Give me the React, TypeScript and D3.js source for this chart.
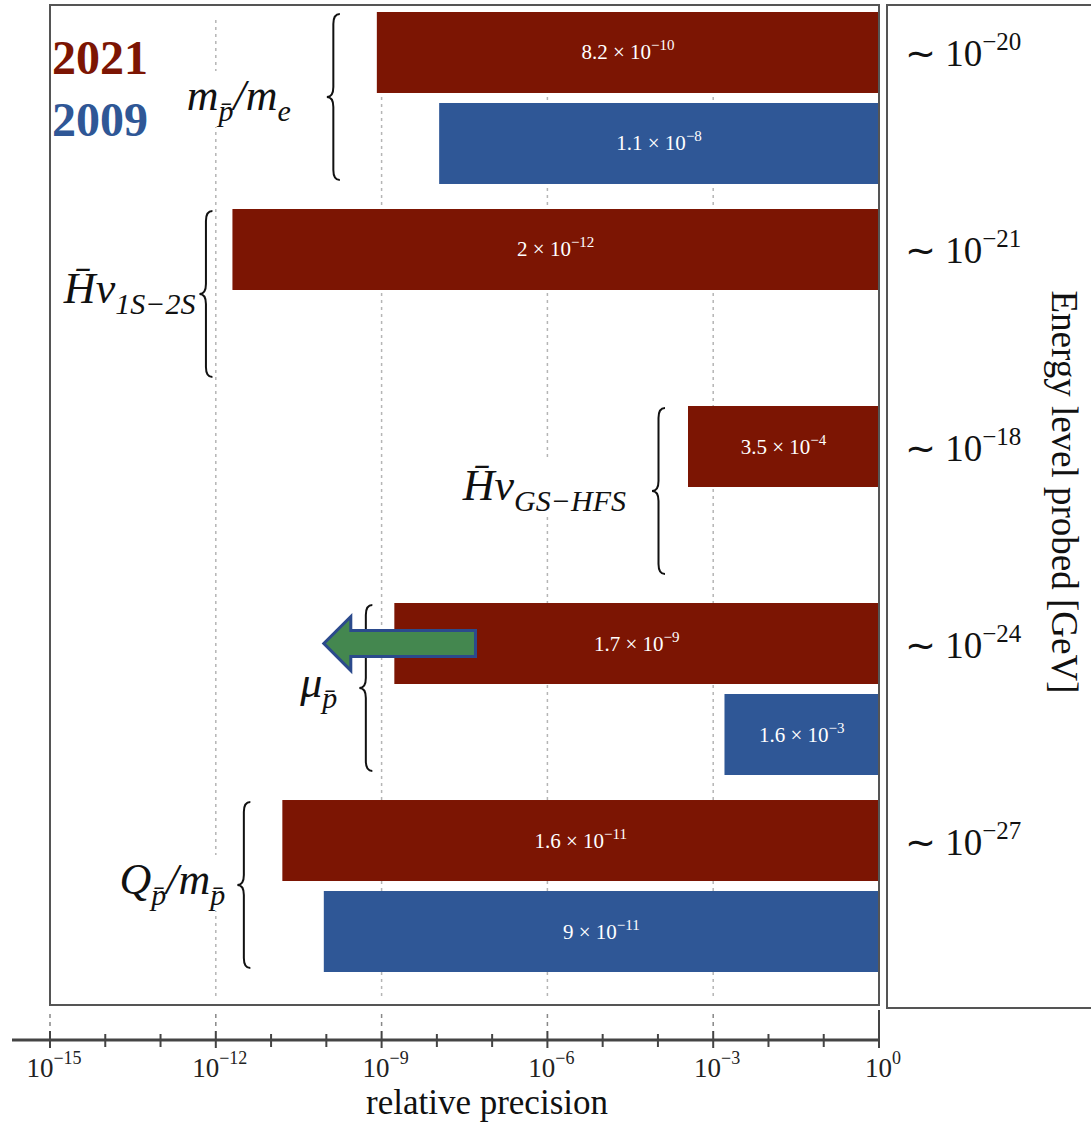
import * as d3 from 'd3';
import { useEffect, useRef } from 'react';

const groups = ['mpme', 'h1s2s', 'hgshfs', 'mu', 'qm'];
const years = ['2021', '2009'];
const precision2021 = [8.2e-10, 2e-12, 3.5e-4, 1.7e-9, 1.6e-11];
const precision2009: (number | null)[] = [1.1e-8, null, null, 1.6e-3, 9e-11];
const energyExponents = ['−20', '−21', '−18', '−24', '−27'];
const groupLabels: [string, string][][] = [
  [['m', 'p̄'], ['/m', 'e']],
  [['H̄ν', '1S−2S']],
  [['H̄ν', 'GS−HFS']],
  [['μ', 'p̄']],
  [['Q', 'p̄'], ['/m', 'p̄']],
];
const majorExponents = [-15, -12, -9, -6, -3, 0];
const minorExponents = d3.range(-15, 1).filter((e) => e % 3 !== 0);
const arrowFrom = 5e-8;
const arrowTo = 9e-11;

// layout tweaks per group (gap bar->brace, brace->label)
const braceGap = [37, 20, 23, 22, 32];
const labelGap = [36, 4, 26, 22, 12];

const RED = '#7c1503';
const BLUE = '#2f5796';
const SERIF = "'Liberation Serif', 'Times New Roman', serif";

function fmt(v: number): [string, string] {
  const [m, e] = v.toExponential().split('e');
  return [m, e.replace('-', '−')];
}

function bracePath(xr: number, y0: number, y1: number, w: number) {
  const xm = xr - w / 2;
  const xt = xr - w;
  const ym = (y0 + y1) / 2;
  const r = 10;
  return `M${xr},${y0} Q${xm},${y0} ${xm},${y0 + r} L${xm},${ym - r} Q${xm},${ym} ${xt},${ym} Q${xm},${ym} ${xm},${ym + r} L${xm},${y1 - r} Q${xm},${y1} ${xr},${y1}`;
}

export default function App() {
  const w = 1091;
  const h = 1124;
  const svgRef = useRef<SVGSVGElement>(null);

  useEffect(() => {
    if (svgRef.current == null) {
      return;
    }
    const svg = d3.select(svgRef.current);
    svg.selectAll('*').remove();

    const xScale = d3.scaleLog().domain([1e-15, 1]).range([50, 879]);
    const groupScale = d3.scaleBand().domain(groups).range([12, 972]).paddingInner(0.127);
    const yearScale = d3
      .scaleBand()
      .domain(years)
      .range([0, groupScale.bandwidth()])
      .paddingInner(0.11);

    // grid lines
    for (const e of majorExponents.slice(1, -1)) {
      const x = xScale(10 ** e);
      svg
        .append('line')
        .attr('x1', x)
        .attr('x2', x)
        .attr('y1', 20)
        .attr('y2', 1000)
        .attr('stroke', '#b5b5b5')
        .attr('stroke-width', 1.5)
        .attr('stroke-dasharray', '3,4');
    }
    for (const e of majorExponents.slice(0, -1)) {
      const x = xScale(10 ** e);
      svg
        .append('line')
        .attr('x1', x)
        .attr('x2', x)
        .attr('y1', 1014)
        .attr('y2', 1028)
        .attr('stroke', '#888')
        .attr('stroke-width', 1.5)
        .attr('stroke-dasharray', '4,4');
    }

    // bars
    const values = [precision2021, precision2009];
    const colors = [RED, BLUE];
    groups.forEach((g, i) => {
      years.forEach((yr, j) => {
        const v = values[j][i];
        if (v == null) return;
        const y = (groupScale(g) ?? 0) + (yearScale(yr) ?? 0);
        const bh = yearScale.bandwidth();
        svg
          .append('rect')
          .attr('x', xScale(v))
          .attr('y', y)
          .attr('width', xScale(1) - xScale(v))
          .attr('height', bh)
          .attr('fill', colors[j]);
        const [m, ex] = fmt(v);
        const t = svg
          .append('text')
          .attr('x', (xScale(v) + xScale(1)) / 2)
          .attr('y', y + bh / 2 + 7)
          .attr('text-anchor', 'middle')
          .attr('fill', 'white')
          .style('font-family', SERIF)
          .style('font-size', '21px');
        t.append('tspan').text(`${m} × 10`);
        t.append('tspan').text(ex).attr('dy', -9).style('font-size', '15px');
      });
    });

    // braces + labels
    groups.forEach((g, i) => {
      const minV = d3.min([precision2021[i], precision2009[i] ?? 1]) as number;
      const xr = xScale(minV) - braceGap[i];
      const y0 = groupScale(g) ?? 0;
      const y1 = y0 + groupScale.bandwidth();
      svg
        .append('path')
        .attr('d', bracePath(xr, y0 + 2, y1 - 4, 13))
        .attr('fill', 'none')
        .attr('stroke', '#111')
        .attr('stroke-width', 2);

      const base = (y0 + y1) / 2 + (i === 0 ? 12 : 8);
      const t = svg
        .append('text')
        .attr('x', xr - 13 - labelGap[i])
        .attr('y', base)
        .attr('text-anchor', 'end')
        .attr('fill', '#111')
        .style('font-family', SERIF)
        .style('font-style', 'italic')
        .style('font-size', '44px');
      let down = false;
      for (const [main, sub] of groupLabels[i]) {
        t.append('tspan').text(main).attr('dy', down ? -11 : 0);
        t.append('tspan').text(sub).attr('dy', 11).style('font-size', '30px');
        down = true;
      }
      const bb = (t.node() as SVGTextElement).getBBox();
      svg
        .insert('rect', () => t.node())
        .attr('x', bb.x - 2)
        .attr('y', bb.y)
        .attr('width', bb.width + 4)
        .attr('height', bb.height)
        .attr('fill', 'white');
    });

    // arrow on mu 2021
    const ay = (groupScale('mu') ?? 0) + (yearScale('2021') ?? 0) + yearScale.bandwidth() / 2;
    const ax0 = xScale(arrowFrom);
    const ax1 = xScale(arrowTo);
    const headLen = 27;
    svg
      .append('path')
      .attr(
        'd',
        `M${ax0},${ay - 13} L${ax1 + headLen},${ay - 13} L${ax1 + headLen},${ay - 27} L${ax1},${ay} L${ax1 + headLen},${ay + 27} L${ax1 + headLen},${ay + 13} L${ax0},${ay + 13} Z`
      )
      .attr('fill', '#44874f')
      .attr('stroke', '#2b4a8c')
      .attr('stroke-width', 3)
      .attr('stroke-linejoin', 'miter');

    // frames
    svg
      .append('rect')
      .attr('x', 50)
      .attr('y', 5)
      .attr('width', 829)
      .attr('height', 1000)
      .attr('fill', 'none')
      .attr('stroke', '#555')
      .attr('stroke-width', 2);
    svg
      .append('rect')
      .attr('x', 887)
      .attr('y', 5)
      .attr('width', 220)
      .attr('height', 1003)
      .attr('fill', 'none')
      .attr('stroke', '#555')
      .attr('stroke-width', 2);

    // legend
    years.forEach((yr, j) => {
      svg
        .append('text')
        .attr('x', 52)
        .attr('y', j === 0 ? 74 : 136)
        .attr('fill', colors[j])
        .style('font-family', SERIF)
        .style('font-weight', 'bold')
        .style('font-size', '48px')
        .text(yr);
    });

    // energy labels
    groups.forEach((g, i) => {
      const y = (groupScale(g) ?? 0) + (yearScale('2021') ?? 0) + yearScale.bandwidth() / 2;
      const t = svg
        .append('text')
        .attr('x', 905)
        .attr('y', y + 14)
        .attr('fill', '#111')
        .style('font-family', SERIF)
        .style('font-size', '37px');
      t.append('tspan').text('∼ 10');
      t.append('tspan').text(energyExponents[i]).attr('dy', -16).style('font-size', '25px');
    });
    svg
      .append('text')
      .attr('transform', 'translate(1052,492) rotate(90)')
      .attr('text-anchor', 'middle')
      .attr('fill', '#111')
      .style('font-family', SERIF)
      .style('font-size', '37px')
      .text('Energy level probed [GeV]');

    // x axis
    const axisY = 1040;
    svg
      .append('line')
      .attr('x1', 12)
      .attr('x2', 880)
      .attr('y1', axisY)
      .attr('y2', axisY)
      .attr('stroke', '#444')
      .attr('stroke-width', 3);
    for (const e of majorExponents) {
      const x = xScale(10 ** e);
      svg
        .append('line')
        .attr('x1', x)
        .attr('x2', x)
        .attr('y1', e === 0 ? 1010 : 1031)
        .attr('y2', 1048)
        .attr('stroke', '#444')
        .attr('stroke-width', 2);
      const t = svg
        .append('text')
        .attr('x', x + 4)
        .attr('y', 1077)
        .attr('text-anchor', 'middle')
        .attr('fill', '#222')
        .style('font-family', SERIF)
        .style('font-size', '27px');
      t.append('tspan').text('10');
      t.append('tspan')
        .text(e === 0 ? '0' : `−${-e}`)
        .attr('dy', -13)
        .style('font-size', '18px');
    }
    for (const e of minorExponents) {
      const x = xScale(10 ** e);
      svg
        .append('line')
        .attr('x1', x)
        .attr('x2', x)
        .attr('y1', 1034)
        .attr('y2', 1047)
        .attr('stroke', '#444')
        .attr('stroke-width', 2);
    }
    svg
      .append('text')
      .attr('x', 487)
      .attr('y', 1114)
      .attr('text-anchor', 'middle')
      .attr('fill', '#111')
      .style('font-family', SERIF)
      .style('font-size', '35px')
      .text('relative precision');
  }, []);

  return (
    <svg
      ref={svgRef}
      width={w}
      height={h}
      style={{ position: 'absolute', left: 0, top: 0, background: 'white' }}
    ></svg>
  );
}
